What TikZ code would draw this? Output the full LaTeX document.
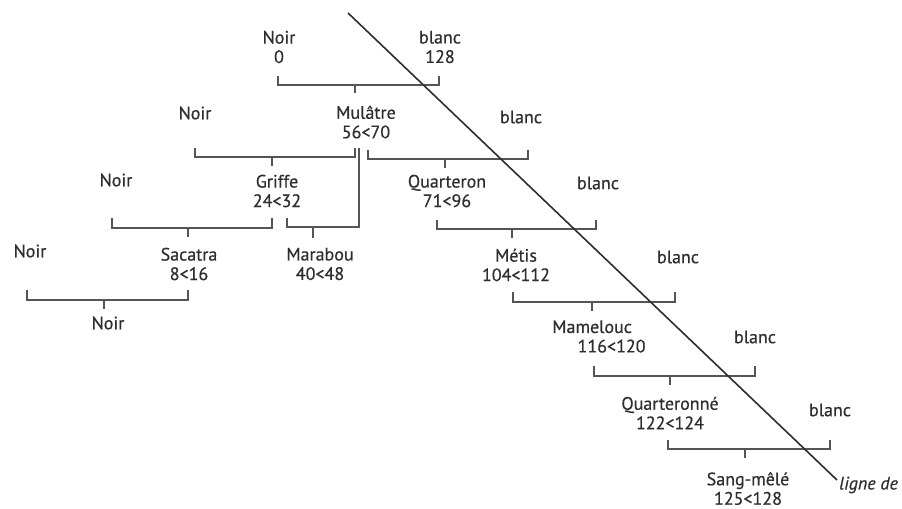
\documentclass[tikz,border=0pt]{standalone}
\usepackage{fontspec}
\setmainfont{PT Sans}
\newfontfamily\lblfont[FakeBold=0.5]{PT Sans}
\definecolor{ink}{HTML}{2E2E2E}
\definecolor{brk}{HTML}{555555}
\tikzset{
  lbl/.style={text=ink, align=center, inner sep=0pt, font=\lblfont\fontsize{13.5}{14.6}\selectfont},
  brline/.style={draw=brk, line width=1.4pt, line cap=butt, line join=miter},
  colorline/.style={draw=ink, line width=1.2pt},
}
% bracket: name, x left, x right, y top, y bottom, x tick, y tick end
\newcommand{\brk}[7]{%
  \coordinate (#1-l) at (#2,#4);
  \coordinate (#1-r) at (#3,#4);
  \coordinate (#1-t) at (#6,#7);
  \draw[brline] (#1-l) -- (#2,#5) -- (#3,#5) -- (#1-r);
  \draw[brline] (#6,#5) -- (#1-t);
}
\begin{document}
\begin{tikzpicture}[x=0.75pt,y=-0.75pt]
\useasboundingbox (0,0) rectangle (902,509);
\fill[white] (0,0) rectangle (902,509);

% labels
\node[lbl] (n0) at (279,47) {Noir\\0};
\node[lbl] (b0) at (440,47) {blanc\\128};
\node[lbl] (mul) at (366,122) {Mulâtre\\56<70};
\node[lbl] (noir2) at (195,113) {Noir};
\node[lbl] (blanc2) at (521,117) {blanc};
\node[lbl] (griffe) at (277,191) {Griffe\\24<32};
\node[lbl] (noir3) at (116,180) {Noir};
\node[lbl] (quart) at (447,191) {Quarteron\\71<96};
\node[lbl] (blanc3) at (598,183) {blanc};
\node[lbl] (sac) at (189,264) {Sacatra\\8<16};
\node[lbl] (mar) at (320,264) {Marabou\\40<48};
\node[lbl] (noir4) at (30,251) {Noir};
\node[lbl] (metis) at (516,265) {Métis\\104<112};
\node[lbl] (blanc4) at (678,257) {blanc};
\node[lbl] (noir5) at (108,323) {Noir};
\node[lbl, align=left, anchor=west] (mam) at (552,336.5) {Mamelouc\\\hspace*{19pt}116<120};
\node[lbl] (blanc5) at (755,337) {blanc};
\node[lbl] (qne) at (670,413) {Quarteronné\\122<124};
\node[lbl] (blanc6) at (830,410) {blanc};
\node[lbl] (sang) at (748,488.5) {Sang-mêlé\\125<128};
\node[lbl, anchor=west, font=\lblfont\fontsize{13.5}{14.6}\selectfont\itshape] (ligne) at (839,485) {ligne de};

% brackets
\brk{k1}{278}{439}{76}{85}{355}{93}
\brk{k2}{195}{355}{148}{157}{272}{166}
\coordinate (k3-top) at (359,148);
\coordinate (k3-l) at (287,218);
\coordinate (k3-t) at (313,238);
\draw[brline] (k3-top) -- (359,227) -- (287,227) -- (k3-l);
\draw[brline] (313,227) -- (k3-t);
\brk{k4}{368}{528}{150}{159}{445}{168}
\brk{k5}{112}{272}{218}{228}{188}{237}
\brk{k6}{437}{596}{220}{229}{512}{238}
\brk{k7}{27}{188}{290}{300}{104}{309}
\brk{k8}{513}{675}{292}{302}{592}{311}
\brk{k9}{594}{755}{366}{376}{670}{385}
\brk{k10}{668}{830}{440}{449}{745}{458}

% colour line
\coordinate (cl-a) at (348,13);
\coordinate (cl-b) at (837,480);
\draw[colorline] (cl-a) -- (cl-b);
\end{tikzpicture}
\end{document}
